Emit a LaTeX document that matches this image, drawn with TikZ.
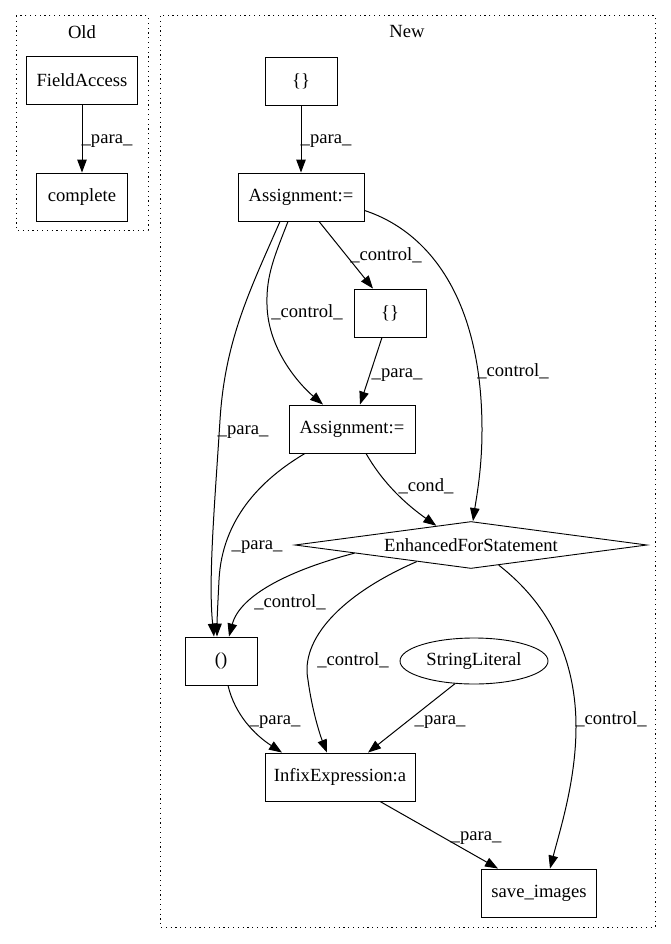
\documentclass[tikz,border=0pt]{standalone}
\usepackage{fontspec}
\setmainfont{Liberation Serif}
\usetikzlibrary{arrows.meta}
\usetikzlibrary{shapes.geometric}

\begin{document}
\begin{tikzpicture}[x=1pt, y=-1pt, font=\fontsize{18.6}{22}\selectfont,
    box/.style={draw, line width=0.9pt, minimum height=48pt, minimum width=#1, inner sep=0pt},
    edge/.style={-{Triangle[length=13pt, width=9.5pt]}, line width=1pt},
    lbl/.style={inner sep=0pt, anchor=base},
    cluster/.style={line width=1pt, dash pattern=on 1.2pt off 3.6pt}]
    \useasboundingbox (0,0) rectangle (671,944);

    % Clusters
    \draw[cluster] (16,16) rectangle (148,230);
    \draw[cluster] (160,16) rectangle (655,927);
    \node (old) at (82,32) {Old};
    \node (new) at (407,32) {New};

    % Old graph
    \node[box=111pt] (field) at (82,80) {FieldAccess};
    \node[box=91pt] (compl) at (82,197) {complete};
    \draw[edge] (field) -- (compl) node[lbl] (la) at (107,144) {\_para\_};

    % New graph nodes
    \node[box=72pt] (brA) at (301,81) {\{\}};
    \node[box=126pt] (asgA) at (301,197) {Assignment:=};
    \node[box=72pt] (brB) at (390,313) {\{\}};
    \node[box=126pt] (asgB) at (352,429) {Assignment:=};
    \node[draw, diamond, aspect=7.5, minimum width=352pt, minimum height=47pt,
          inner sep=0pt, line width=0.9pt] (efs) at (471,545) {EnhancedForStatement};
    \node[box=72pt] (call) at (221,661) {()};
    \node[draw, ellipse, minimum width=148pt, minimum height=46pt, inner sep=0pt,
          line width=0.9pt] (str) at (474,661) {StringLiteral};
    \node[box=150pt] (infx) at (340,777) {InfixExpression:a};
    \node[box=115pt] (save) at (539,893) {save\_images};

    % Edges
    \draw[edge] (brA) -- (asgA) node[lbl] (lb) at (326,144) {\_para\_};
    \draw[edge] ([xshift=18pt]asgA.south) -- ([xshift=-17pt]brB.north)
        node[lbl] (lc) at (386,260) {\_control\_};
    \draw[edge] ([xshift=-13pt]asgA.south) .. controls (275,255) and (266,275) .. (267,305)
        .. controls (268,350) and (300,385) .. ([xshift=-29pt]asgB.north)
        node[lbl] (ld) at (307,317) {\_control\_};
    \draw[edge] ([yshift=11pt]asgA.south east) .. controls (430,232) and (482,300) .. (482,430)
        .. controls (482,470) and (476,500) .. ([xshift=2pt]efs.north)
        node[lbl] (le) at (513,376) {\_control\_};
    \draw[edge] ([xshift=-21pt]asgA.south) .. controls (250,290) and (225,340) .. (220,420)
        .. controls (215,500) and (208,580) .. ([xshift=-7pt]call.north)
        node[lbl] (lf) at (243,434) {\_para\_};
    \draw[edge] ([xshift=-8pt]brB.south) -- ([xshift=8pt]asgB.north)
        node[lbl] (lg) at (397,377) {\_para\_};
    \draw[edge] ([xshift=-47pt]asgB.south) .. controls (260,480) and (222,520) .. (219,580)
        .. controls (218,600) and (217,620) .. ([xshift=-4pt]call.north)
        node[lbl] (lh) at (257,549) {\_para\_};
    \draw[edge] ([xshift=14pt]asgB.south) .. controls (380,478) and (400,500) .. (efs.151)
        node[lbl] (li) at (426,491) {\_cond\_};
    \draw[edge] (efs.184) .. controls (290,570) and (240,595) .. ([xshift=8pt]call.north)
        node[lbl] (lj) at (290,607) {\_control\_};
    \draw[edge] (efs.197) .. controls (340,595) and (300,640) .. (308,680)
        .. controls (312,710) and (320,735) .. ([xshift=-13pt]infx.north)
        node[lbl] (lk) at (353,665) {\_control\_};
    \draw[edge] (str.230) -- ([xshift=28pt]infx.north)
        node[lbl] (ll) at (440,724) {\_para\_};
    \draw[edge] (efs.324) .. controls (550,605) and (576,660) .. (576,727)
        .. controls (576,780) and (560,830) .. ([xshift=11pt]save.north)
        node[lbl] (lm) at (611,724) {\_control\_};
    \draw[edge] ([xshift=7pt]call.south) .. controls (235,715) and (255,735) .. ([xshift=-58pt]infx.north)
        node[lbl] (ln) at (275,724) {\_para\_};
    \draw[edge] ([xshift=40pt]infx.south) -- ([xshift=-41pt]save.north)
        node[lbl] (lo) at (476,840) {\_para\_};

\end{tikzpicture}
\end{document}
